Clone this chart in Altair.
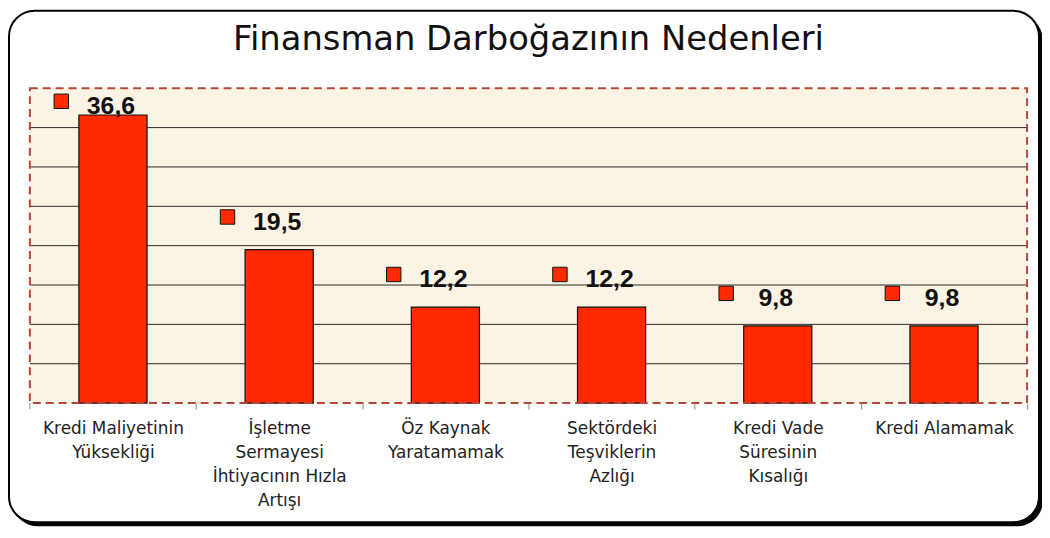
import altair as alt
import pandas as pd

# ---- data ----
categories = [
    "Kredi Maliyetinin|Yüksekliği",
    "İşletme|Sermayesi|İhtiyacının Hızla|Artışı",
    "Öz Kaynak|Yaratamamak",
    "Sektördeki|Teşviklerin|Azlığı",
    "Kredi Vade|Süresinin|Kısalığı",
    "Kredi Alamamak",
]
values = [36.6, 19.5, 12.2, 12.2, 9.8, 9.8]
grid_values = [5, 10, 15, 20, 25, 30, 35]
title_text = "Finansman Darboğazının Nedenleri"

W, H = 1004, 317
STEP = W / len(categories)

df = pd.DataFrame({"cat": categories, "value": values})
grid_df = pd.DataFrame({"g": grid_values})
one = pd.DataFrame({"t": [title_text]})

xscale = alt.Scale(domain=categories, paddingInner=0.59, paddingOuter=0.295)
yscale = alt.Scale(domain=[0, 40], nice=False, zero=True)

xaxis = alt.Axis(
    title=None,
    labelAngle=0,
    labelExpr="split(datum.label, '|')",
    labelFont="DejaVu Sans",
    labelFontSize=17,
    labelLineHeight=24,
    labelPadding=12,
    labelColor="#222222",
    labelLimit=240,
    labelOffset=-STEP / 2,
    domain=False,
    ticks=True,
    tickOffset=STEP / 2,
    tickSize=6,
    tickColor="#888888",
    zindex=2,
)

base = alt.Chart(df)

shadow = alt.Chart(one).mark_rect(cornerRadius=26, fill="#000000").encode(
    x=alt.value(-18), x2=alt.value(1020), y=alt.value(-74), y2=alt.value(441)
)
frame = alt.Chart(one).mark_rect(cornerRadius=26, fill="#FFFFFF", stroke="#000000", strokeWidth=2).encode(
    x=alt.value(-21), x2=alt.value(1016), y=alt.value(-78), y2=alt.value(437)
)
plotbg = alt.Chart(one).mark_rect(fill="#FBF3E3").encode(
    x=alt.value(0), x2=alt.value(W), y=alt.value(0), y2=alt.value(H)
)
grid = alt.Chart(grid_df).mark_rule(color="#2b2b2b", strokeWidth=1).encode(
    y=alt.Y("g:Q", scale=yscale, axis=None)
)
left_tick = alt.Chart(one).mark_rule(color="#888888", strokeWidth=1).encode(
    x=alt.value(0), y=alt.value(H), y2=alt.value(H + 6)
)

bars = base.mark_bar(color="#FF2A00", stroke="#111111", strokeWidth=1.2).encode(
    x=alt.X("cat:N", sort=categories, scale=xscale, axis=xaxis),
    y=alt.Y("value:Q", scale=yscale, axis=None),
)

lab = base.transform_calculate(
    ly="min(datum.value + 2.5, 36.7)",
    txt="replace(format(datum.value, '.1f'), '.', ',')",
)

squares = lab.mark_square(size=210, color="#FF2A00", stroke="#111111", strokeWidth=1, opacity=1,
                          xOffset=-52, yOffset=-13).encode(
    x=alt.X("cat:N", sort=categories, scale=xscale),
    y=alt.Y("ly:Q", scale=yscale),
)
texts = lab.mark_text(font="Liberation Sans", fontWeight="bold", fontSize=25, color="#111111",
                      baseline="alphabetic", align="center", dx=-2).encode(
    x=alt.X("cat:N", sort=categories, scale=xscale),
    y=alt.Y("ly:Q", scale=yscale),
    text="txt:N",
)

border = alt.Chart(one).mark_rect(filled=False, stroke="#B5473A", strokeWidth=2, strokeDash=[8, 5]).encode(
    x=alt.value(0), x2=alt.value(W), y=alt.value(0), y2=alt.value(H)
)

title = alt.Chart(one).mark_text(font="DejaVu Sans", fontSize=34, color="#111111",
                                 align="center", baseline="middle").encode(
    x=alt.value(502), y=alt.value(-48), text="t:N"
)

chart = alt.layer(shadow, frame, plotbg, grid, bars, squares, texts, left_tick, border, title).properties(
    width=W,
    height=H,
    autosize=alt.AutoSizeParams(type="none"),
    padding={"left": 22, "top": 79, "right": 15, "bottom": 125},
    background="white",
).configure_view(stroke=None)

chart.save("out.html", embed_options={"renderer": "svg", "actions": False})
